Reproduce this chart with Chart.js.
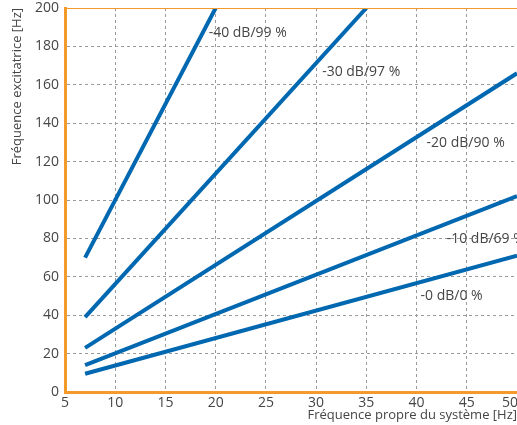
<!DOCTYPE html>
<html>
<head>
<meta charset="utf-8">
<script src="https://cdn.jsdelivr.net/npm/chart.js@4/dist/chart.umd.min.js"></script>
<style>
  html, body { margin: 0; padding: 0; background: #fff; }
  #wrap { width: 517px; height: 425px; }
</style>
</head>
<body>
<div id="wrap"><canvas id="isoChart"></canvas></div>
<script>
// Data
const seriesLabels = ['-40 dB/99 %', '-30 dB/97 %', '-20 dB/90 %', '-10 dB/69 %', '-0 dB/0 %'];
const xStarts = [7, 7, 7, 7, 7];
const xEnds = [20, 35, 50, 50, 50];
const yStarts = [70, 39, 23, 14, 9.5];
const yEnds = [200, 200, 166, 102, 71];
// where the curve labels sit (data coords, left edge of text)
const labelX = [19.3, 30.6, 41, 43, 40.4];
const labelY = [187, 166.7, 129.7, 79.7, 50];

const lineColor = '#0068b0';
const orange = '#f39a2b';
const textColor = '#454545';
const gridColor = '#9a9a9a';
const fontFamily = '"Open Sans", Lato, sans-serif';

// Labels next to each curve
const curveLabels = {
    id: 'curveLabels',
    afterDatasetsDraw(chart) {
        const ctx = chart.ctx;
        const xs = chart.scales.x, ys = chart.scales.y;
        ctx.save();
        ctx.font = '14px ' + fontFamily;
        ctx.fillStyle = textColor;
        ctx.textAlign = 'left';
        ctx.textBaseline = 'middle';
        seriesLabels.forEach((txt, i) => {
            ctx.fillText(txt, xs.getPixelForValue(labelX[i]), ys.getPixelForValue(labelY[i]));
        });
        ctx.restore();
    }
};

// thin orange frame line at top
const topLine = {
    id: 'topLine',
    afterDraw(chart) {
        const {ctx, chartArea} = chart;
        ctx.save();
        ctx.strokeStyle = orange;
        ctx.lineWidth = 1;
        ctx.beginPath();
        ctx.moveTo(chartArea.left, chartArea.top + 0.5);
        ctx.lineTo(chartArea.right, chartArea.top + 0.5);
        ctx.stroke();
        ctx.restore();
    }
};

const ctx = document.getElementById('isoChart').getContext('2d');
const isoChart = new Chart(ctx, {
    type: 'line',
    data: {
        datasets: seriesLabels.map((lbl, i) => ({
            label: lbl,
            data: [{x: xStarts[i], y: yStarts[i]}, {x: xEnds[i], y: yEnds[i]}],
            borderColor: lineColor,
            borderWidth: 4,
            pointRadius: 0,
            tension: 0,
            fill: false,
            clip: 0
        }))
    },
    options: {
        responsive: true,
        maintainAspectRatio: false,
        animation: false,
        layout: { padding: { top: 8, right: 0, left: 0, bottom: 0 } },
        plugins: {
            legend: { display: false },
            tooltip: { enabled: false }
        },
        scales: {
            x: {
                type: 'linear',
                min: 5,
                max: 50,
                ticks: {
                    stepSize: 5,
                    padding: 3,
                    color: textColor,
                    font: { family: fontFamily, size: 14 },
                    maxRotation: 0,
                    callback: function(v) {
                        if (v === 50) return '50\u2002\u2002';
                        return String(v);
                    }
                },
                grid: {
                    color: gridColor,
                    lineWidth: 1,
                    drawTicks: false,
                    borderDash: [3, 3]
                },
                border: { color: orange, width: 3, dash: [3, 3] },
                title: {
                    display: true,
                    text: 'Fréquence propre du système [Hz]',
                    align: 'end',
                    color: textColor,
                    font: { family: fontFamily, size: 13 },
                    padding: { top: 0, bottom: 2 }
                },
                afterFit(scale) {
                    scale.height = 33;
                    scale.paddingLeft = 0;
                    scale.paddingRight = 0;
                }
            },
            y: {
                type: 'linear',
                min: 0,
                max: 200,
                ticks: {
                    stepSize: 20,
                    padding: 6,
                    color: textColor,
                    font: { family: fontFamily, size: 14 }
                },
                grid: {
                    color: gridColor,
                    lineWidth: 1,
                    drawTicks: false,
                    borderDash: [3, 3]
                },
                border: { color: orange, width: 3, dash: [3, 3] },
                title: {
                    display: true,
                    text: 'Fréquence excitatrice [Hz]',
                    align: 'end',
                    color: textColor,
                    font: { family: fontFamily, size: 13 },
                    padding: { top: 9, bottom: 0 }
                },
                afterFit(scale) {
                    scale.width = 65;
                    scale.paddingTop = 0;
                    scale.paddingBottom = 0;
                }
            }
        }
    },
    plugins: [curveLabels, topLine]
});
</script>
</body>
</html>
